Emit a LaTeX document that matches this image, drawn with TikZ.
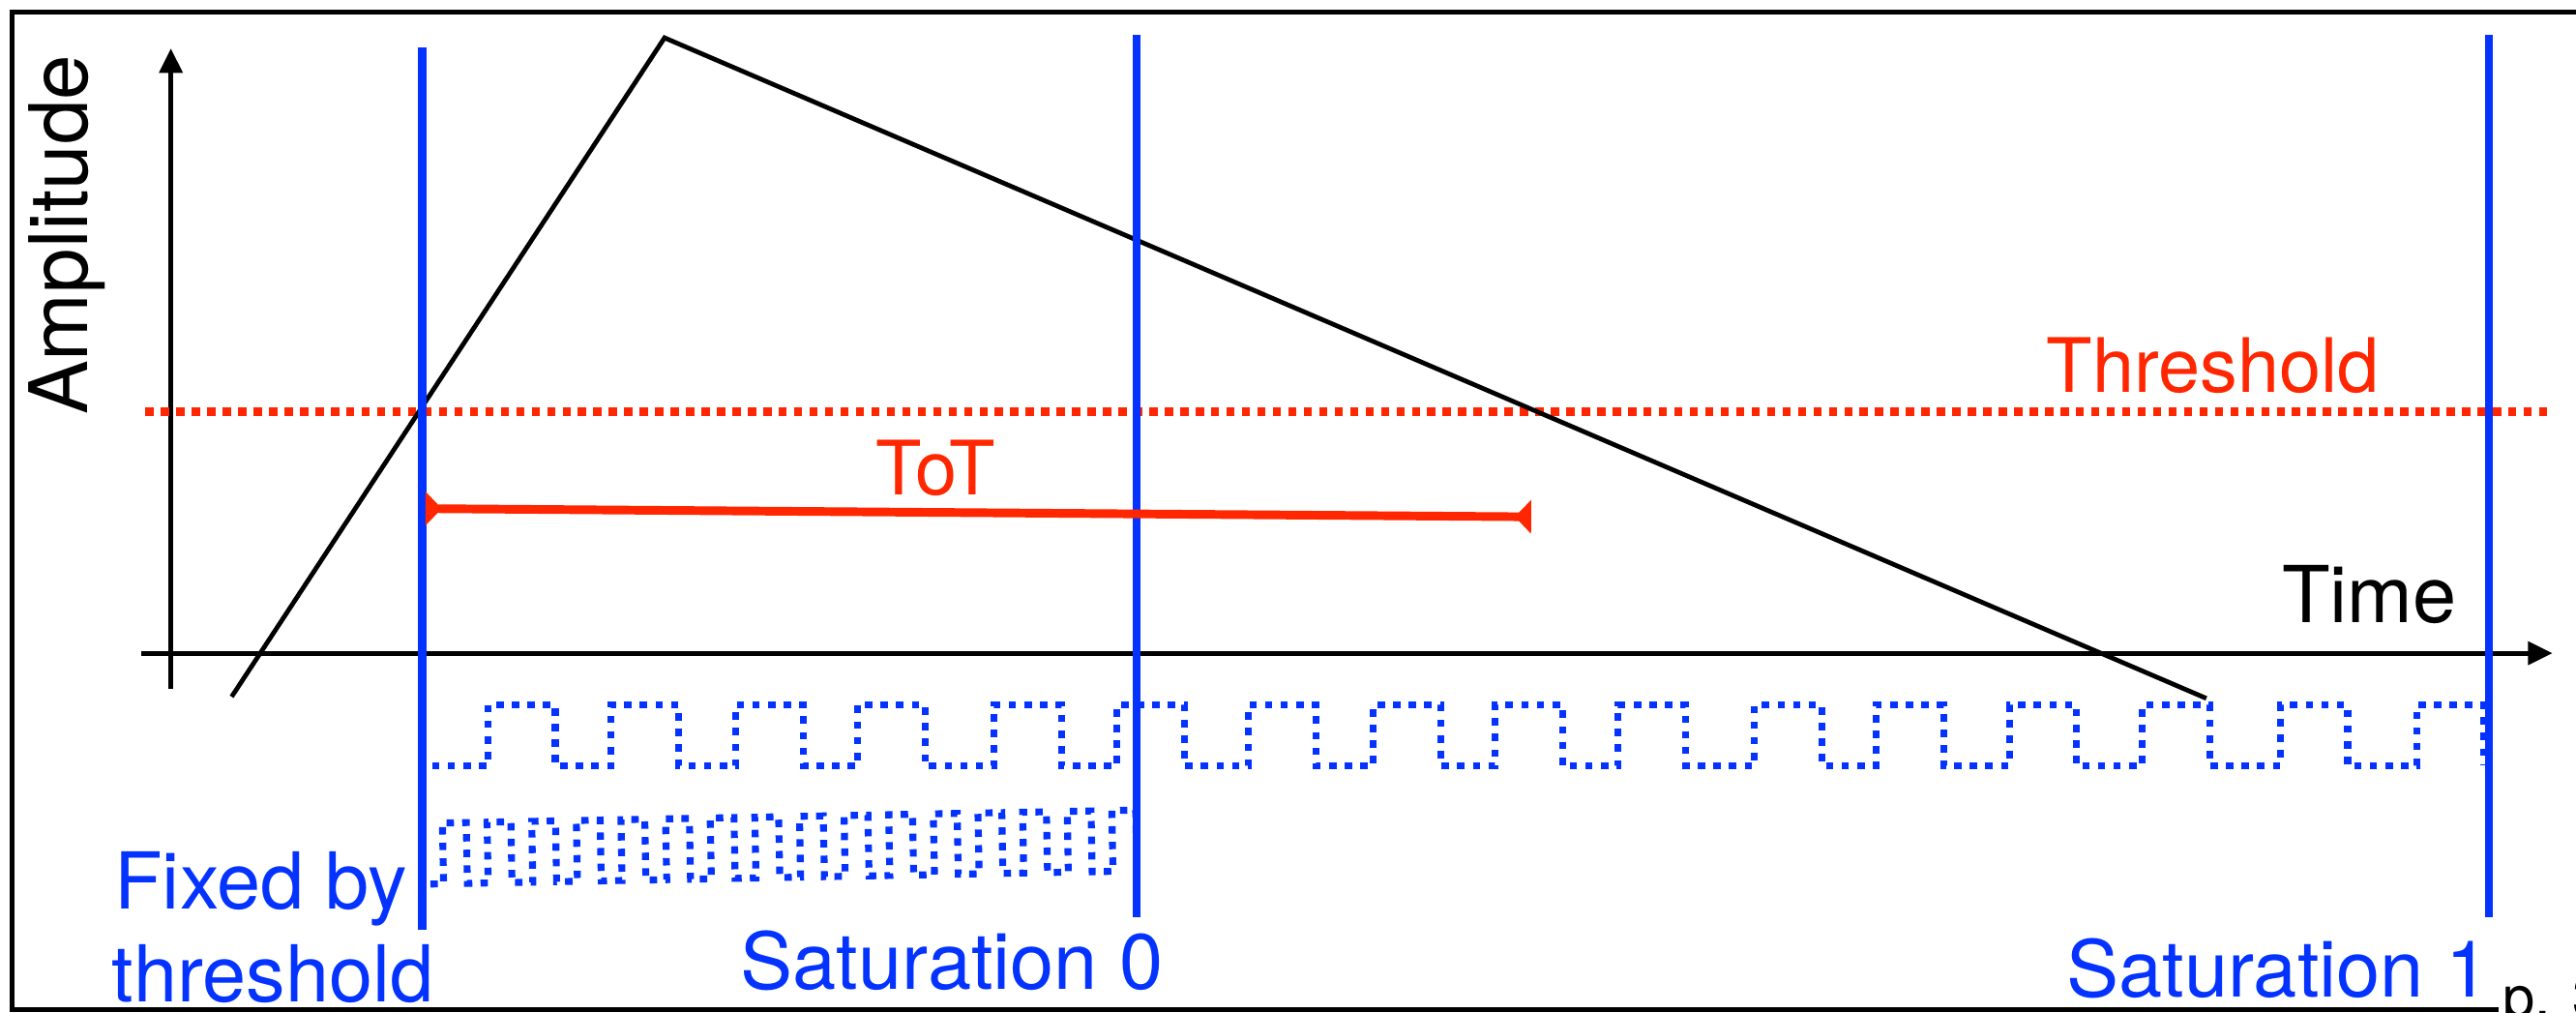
\documentclass[tikz,border=0pt]{standalone}
\usepackage{fontspec}
\setmainfont{TeX Gyre Heros}
\usetikzlibrary{arrows.meta}
\definecolor{kblue}{RGB}{4,51,255}
\definecolor{kred}{RGB}{255,38,0}
\begin{document}
\begin{tikzpicture}[x=0.1mm,y=-0.1mm,>={Triangle[length=1.5mm,width=1.4mm]},
  axis/.style={line width=0.8pt},
  sat/.style={kblue,line width=1.35pt},
  clk/.style={kblue,line width=1.2pt,dash pattern=on 0.45mm off 0.5mm},
  lbl/.style={inner sep=0pt,font=\fontsize{13}{16}\selectfont},
  bluelbl/.style={lbl,kblue,font=\fontsize{13.6}{16}\selectfont},
  tot/.style={kred,line width=1.5pt,{Triangle[reversed,length=1mm,width=2mm]}-{Triangle[reversed,length=1mm,width=2mm]}}]
\useasboundingbox (0,0) rectangle (1568,616);
% frame of the slide
\draw[line width=0.85pt] (1600,7.5) -- (7.5,7.5) -- (7.5,614.3) -- (1521,614.3);
\node[inner sep=0pt,anchor=base west,font=\fontsize{10}{12}\selectfont] (page) at (1523,619) {p. 3};
% axes
\coordinate (ybot) at (104,419);
\coordinate (ytop) at (104,29.4);
\coordinate (xleft) at (85.8,397.5);
\coordinate (xright) at (1553.7,397.5);
\draw[axis,->] (ybot) -- (ytop);
\draw[axis,->] (xleft) -- (xright);
\node[lbl,rotate=90,anchor=base,font=\fontsize{14}{16}\selectfont] (amp) at (53,143) {Amplitude};
\node[lbl,anchor=base east,font=\fontsize{13.6}{16}\selectfont] (time) at (1496,379) {Time};
% threshold
\coordinate (thA) at (88.6,250.6);
\coordinate (thB) at (1554,250.6);
\draw[kred,line width=1.4pt,dash pattern=on 0.5mm off 0.44mm] (thA) -- (thB);
\node[lbl,kred,anchor=base west] (thlbl) at (1245,239) {Threshold};
% signal
\coordinate (sigA) at (141,424);
\coordinate (peak) at (404.5,23);
\coordinate (sigB) at (1343,425);
\draw[line width=0.8pt] (sigA) -- (peak) -- (sigB);
% slow clock
\draw[clk] (263,466) foreach \r in {297,372,448,522,605,680,760,836,910,985,1068,1142,1223,1304,1388,1471}
  { -- (\r,466) -- (\r,429) -- ({\r+41},429) -- ({\r+41},466) };
% fast clock
\begin{scope}[rotate around={1.07:(262,538)}]
\draw[clk] (262,538) foreach \k in {0,...,15}
  { -- ({270+27.17*\k},538) -- ({270+27.17*\k},501) -- ({284.5+27.17*\k},501) -- ({284.5+27.17*\k},538) };
\end{scope}
% saturation lines
\coordinate (s1top) at (257,29);
\coordinate (s1bot) at (257,566);
\coordinate (s2top) at (692,21.2);
\coordinate (s2bot) at (692,558);
\coordinate (s3top) at (1515,21.2);
\coordinate (s3bot) at (1515,558);
\draw[sat] (s1top) -- (s1bot);
\draw[sat] (s2top) -- (s2bot);
\draw[sat] (s3top) -- (s3bot);
\node[bluelbl,anchor=base west] (fixed) at (69,553) {Fixed by};
\node[bluelbl,anchor=base west] (fixedb) at (67.5,609.5) {threshold};
\node[bluelbl,anchor=base west] (sat0) at (450,602) {Saturation 0};
\node[bluelbl,anchor=base east] (sat1) at (1516,606.5) {Saturation 1};
% time over threshold
\coordinate (totA) at (259,309.5);
\coordinate (totB) at (932,314.5);
\draw[tot] (totA) -- (totB);
\node[lbl,kred,anchor=base] (totlbl) at (569.5,301) {ToT};
\end{tikzpicture}
\end{document}
